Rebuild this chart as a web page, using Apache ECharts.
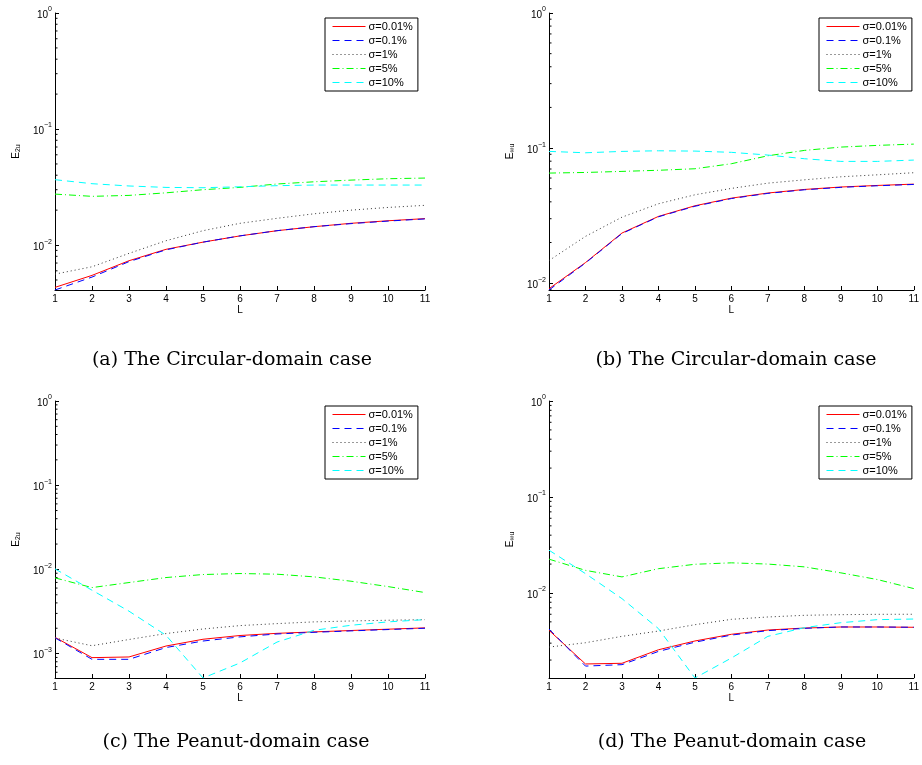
<!DOCTYPE html>
<html><head><meta charset="utf-8">
<script src="https://cdn.jsdelivr.net/npm/echarts@6/dist/echarts.min.js"></script>
<style>html,body{margin:0;padding:0;background:#fff}#c{width:922px;height:765px}</style>
</head><body><div id="c"></div>
<script>
const L = [1, 2, 3, 4, 5, 6, 7, 8, 9, 10, 11];
const seriesNames = ['σ=0.01%', 'σ=0.1%', 'σ=1%', 'σ=5%', 'σ=10%'];
const captions = ['(a) The Circular-domain case', '(b) The Circular-domain case', '(c) The Peanut-domain case', '(d) The Peanut-domain case'];
const yNames = ['E{sub|2u}', 'E{sub|∞u}', 'E{sub|2u}', 'E{sub|∞u}'];
const yMins = [0.0041, 0.0089, 0.000513, 0.0013];
const yMax = 1;

// (a) Circular, E2u
const a_s001 = [0.00432, 0.00548, 0.00733, 0.00919, 0.0106, 0.0120, 0.0133, 0.0144, 0.0154, 0.0162, 0.0169];
const a_s01  = [0.0041, 0.0053, 0.0072, 0.0091, 0.0106, 0.0120, 0.0133, 0.0144, 0.0153, 0.0161, 0.0168];
const a_s1   = [0.00562, 0.0065, 0.00848, 0.0109, 0.0133, 0.0154, 0.0170, 0.0186, 0.0200, 0.0211, 0.0220];
const a_s5   = [0.0275, 0.0263, 0.0268, 0.0282, 0.0300, 0.0314, 0.0336, 0.0351, 0.0363, 0.0373, 0.0378];
const a_s10  = [0.0366, 0.0338, 0.0323, 0.0314, 0.0312, 0.0318, 0.0325, 0.0329, 0.0329, 0.0329, 0.0329];
// (b) Circular, Einf
const b_s001 = [0.0091, 0.0142, 0.0235, 0.0312, 0.0374, 0.0426, 0.0465, 0.0494, 0.0515, 0.0529, 0.0541];
const b_s01  = [0.0089, 0.0141, 0.0233, 0.0310, 0.0371, 0.0423, 0.0462, 0.0491, 0.0512, 0.0526, 0.0538];
const b_s1   = [0.0147, 0.0222, 0.0308, 0.0387, 0.0451, 0.0503, 0.0550, 0.0582, 0.0613, 0.0634, 0.0657];
const b_s5   = [0.0653, 0.0660, 0.0672, 0.0685, 0.0703, 0.0766, 0.0877, 0.0961, 0.1017, 0.1047, 0.1070];
const b_s10  = [0.0945, 0.0923, 0.0945, 0.0955, 0.0950, 0.0930, 0.0888, 0.0834, 0.0797, 0.0797, 0.0815];
// (c) Peanut, E2u
const c_s001 = [0.00156, 0.000895, 0.000912, 0.00123, 0.00148, 0.00164, 0.00174, 0.00181, 0.00188, 0.00195, 0.00202];
const c_s01  = [0.00154, 0.000855, 0.000855, 0.00118, 0.00141, 0.00158, 0.00171, 0.00179, 0.00186, 0.00193, 0.00200];
const c_s1   = [0.00153, 0.00124, 0.00147, 0.00173, 0.00196, 0.00215, 0.00227, 0.00238, 0.00244, 0.00249, 0.00253];
const c_s5   = [0.00793, 0.00608, 0.00698, 0.00800, 0.00869, 0.00893, 0.00877, 0.00815, 0.00724, 0.00625, 0.00531];
const c_s10  = [0.01015, 0.00566, 0.00319, 0.00165, 0.000513, 0.000774, 0.00137, 0.00189, 0.00217, 0.00238, 0.00253];
// (d) Peanut, Einf
const d_s001 = [0.00408, 0.00182, 0.00185, 0.00256, 0.00316, 0.00371, 0.00411, 0.00431, 0.00442, 0.00442, 0.00439];
const d_s01  = [0.00421, 0.00173, 0.00179, 0.00246, 0.00307, 0.00364, 0.00405, 0.00428, 0.00442, 0.00442, 0.00439];
const d_s1   = [0.00273, 0.00303, 0.00353, 0.00401, 0.00467, 0.00531, 0.00562, 0.00585, 0.00594, 0.00599, 0.00600];
const d_s5   = [0.0225, 0.0172, 0.0147, 0.0179, 0.0199, 0.0206, 0.0200, 0.0187, 0.0162, 0.0138, 0.0111];
const d_s10  = [0.0279, 0.0159, 0.00873, 0.00425, 0.0013, 0.0021, 0.00353, 0.00435, 0.0049, 0.00527, 0.00535];

const panels = [
  [a_s001, a_s01, a_s1, a_s5, a_s10],
  [b_s001, b_s01, b_s1, b_s5, b_s10],
  [c_s001, c_s01, c_s1, c_s5, c_s10],
  [d_s001, d_s01, d_s1, d_s5, d_s10]
];

const styles = [
  { color: '#ff0000', type: 'solid' },
  { color: '#0000ff', type: [7, 5] },
  { color: '#333333', type: [1, 3] },
  { color: '#00ff00', type: [7, 3, 1, 3] },
  { color: '#00ffff', type: [7, 5] }
];

const gridPos = [
  { left: 55, top: 13 }, { left: 549, top: 13 },
  { left: 55, top: 401 }, { left: 549, top: 401 }
];
const legendPos = [
  { left: 325, top: 18 }, { left: 819, top: 18 },
  { left: 325, top: 406 }, { left: 819, top: 406 }
];
const captionPos = [[232, 360], [736, 360], [236, 742], [732, 742]];

const sansFont = 'Liberation Sans, Arial, sans-serif';
function yLabel(v) {
  const lg = Math.log10(v);
  const r = Math.round(lg);
  if (Math.abs(lg - r) > 1e-6) return '';
  return '{b|10}{s|' + (r < 0 ? '−' + (-r) : r) + '}';
}

const grids = [], xAxes = [], yAxes = [], series = [], legends = [], graphics = [];
for (let i = 0; i < 4; i++) {
  grids.push({ left: gridPos[i].left, top: gridPos[i].top, width: 370, height: 277 });
  xAxes.push({
    type: 'value', gridIndex: i, min: 1, max: 11, interval: 1,
    name: 'L', nameLocation: 'middle', nameGap: 15,
    nameTextStyle: { color: '#000', fontSize: 10, fontFamily: sansFont },
    axisLine: { lineStyle: { color: '#000', width: 1 } },
    axisTick: { inside: true, length: 4, lineStyle: { color: '#000' } },
    axisLabel: { color: '#000', fontSize: 10, fontFamily: sansFont, margin: 4 },
    splitLine: { show: false }
  });
  yAxes.push({
    type: 'log', logBase: 10, gridIndex: i, min: yMins[i], max: yMax,
    name: yNames[i], nameLocation: 'middle', nameGap: 33,
    nameTextStyle: { color: '#000', fontSize: 10, fontFamily: sansFont,
      rich: { sub: { fontSize: 7, fontFamily: sansFont, color: '#000', verticalAlign: 'bottom', padding: [4, 0, 0, 0] } } },
    axisLine: { lineStyle: { color: '#000', width: 1 } },
    axisTick: { inside: true, length: 4, lineStyle: { color: '#000' } },
    axisLabel: { color: '#000', margin: 3, formatter: yLabel,
      rich: {
        b: { fontSize: 10, fontFamily: sansFont, color: '#000', verticalAlign: 'bottom', lineHeight: 14 },
        s: { fontSize: 7, fontFamily: sansFont, color: '#000', verticalAlign: 'top', lineHeight: 14 }
      } },
    splitLine: { show: false }
  });
  // minor ticks of the log axis (2..9 x 10^k)
  const minors = [];
  for (let k = -4; k < 0; k++) {
    for (let m = 2; m <= 9; m++) {
      const v = m * Math.pow(10, k);
      if (v > yMins[i] && v < yMax) minors.push([1, v]);
    }
  }
  series.push({
    type: 'custom', name: 'minor' + i, xAxisIndex: i, yAxisIndex: i, silent: true, z: 1,
    data: minors,
    renderItem: function (params, api) {
      const p = api.coord([api.value(0), api.value(1)]);
      return { type: 'line', shape: { x1: p[0], y1: p[1], x2: p[0] + 2.5, y2: p[1] },
        style: { stroke: '#000', lineWidth: 1 } };
    }
  });
  panels[i].forEach(function (arr, j) {
    series.push({
      type: 'line', name: seriesNames[j], xAxisIndex: i, yAxisIndex: i,
      data: L.map(function (x, n) { return [x, arr[n]]; }),
      symbol: 'none', showSymbol: false,
      lineStyle: { color: styles[j].color, width: 1, type: styles[j].type },
      itemStyle: { color: styles[j].color },
      z: 2 + j
    });
  });
  legends.push({
    left: legendPos[i].left, top: legendPos[i].top, orient: 'vertical',
    data: seriesNames, itemWidth: 33, itemHeight: 10, itemGap: 3,
    padding: [3, 5, 3, 7], borderColor: '#000', borderWidth: 1, backgroundColor: '#fff',
    itemStyle: { opacity: 0, borderWidth: 0 },
    lineStyle: { width: 1 },
    textStyle: { color: '#000', fontSize: 11, fontFamily: sansFont, padding: [0, 0, 0, -2] },
    selectedMode: true
  });
  graphics.push({
    type: 'text', x: captionPos[i][0], y: captionPos[i][1],
    style: { text: captions[i], font: '19px "DejaVu Serif", serif', fill: '#000',
      align: 'center', verticalAlign: 'middle', textAlign: 'center', textVerticalAlign: 'middle' }
  });
}

const chart = echarts.init(document.getElementById('c'), null, { renderer: 'canvas' });
chart.setOption({
  animation: false,
  backgroundColor: '#fff',
  grid: grids, xAxis: xAxes, yAxis: yAxes, series: series, legend: legends,
  graphic: graphics
});
</script>
</body></html>
